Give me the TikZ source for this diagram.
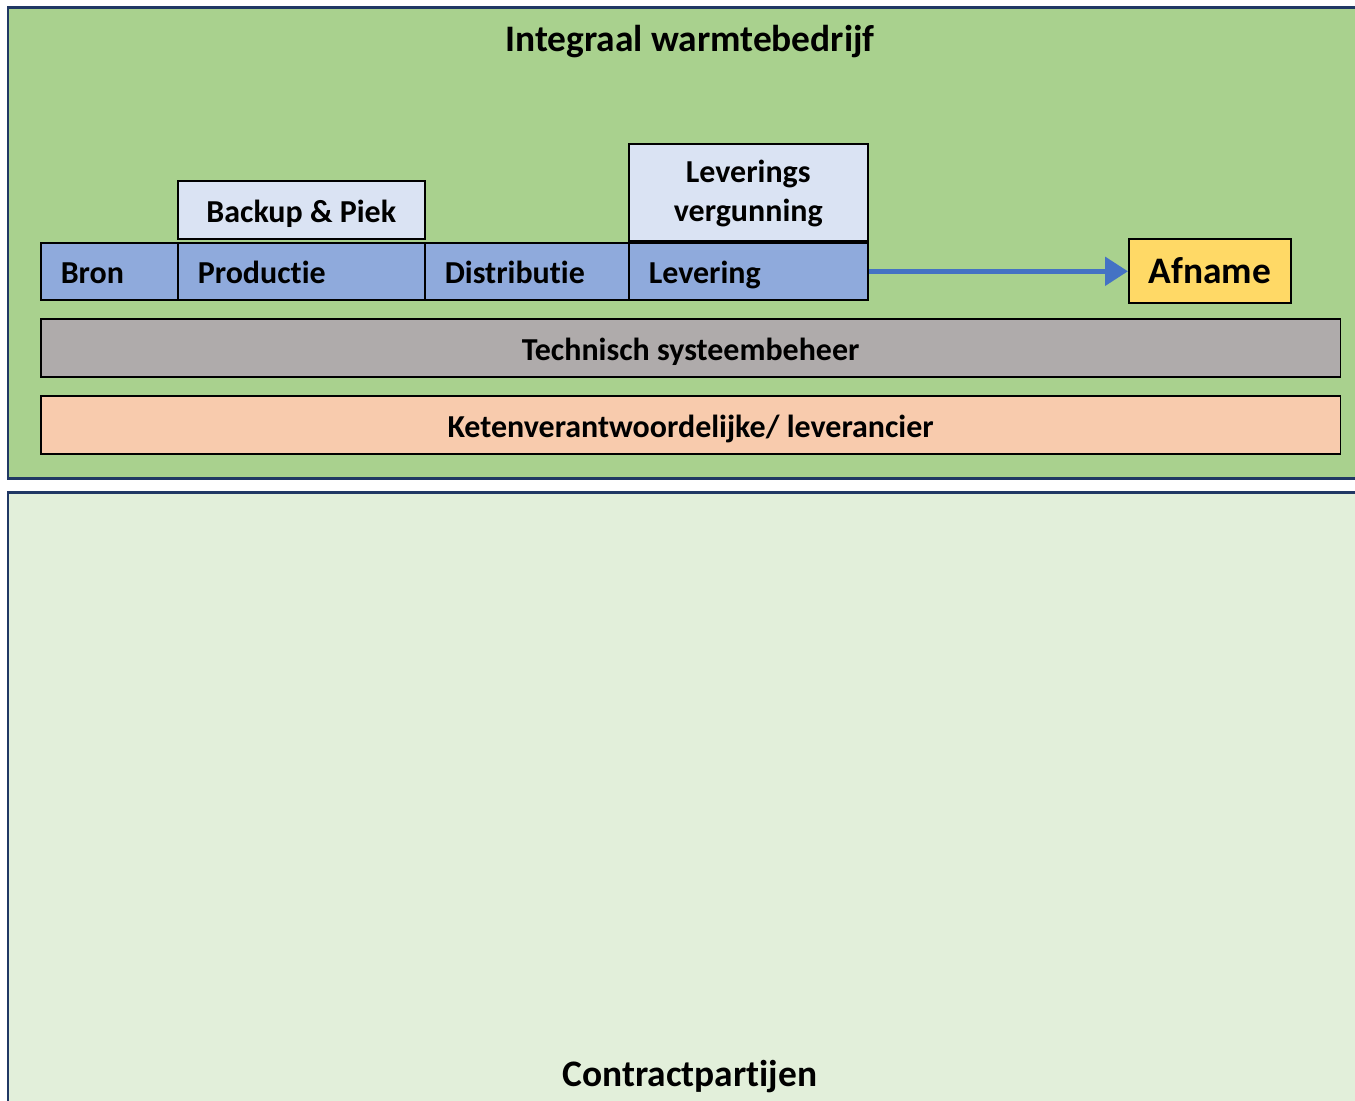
\documentclass[tikz,border=0pt]{standalone}
\usepackage{fontspec}
\setmainfont{Carlito}[Ligatures=NoCommon]
\usetikzlibrary{arrows.meta}
\definecolor{donkerblauw}{HTML}{203864}
\definecolor{groen}{HTML}{A9D18E}
\definecolor{lichtgroen}{HTML}{E2EFDA}
\definecolor{rijblauw}{HTML}{8FAADC}
\definecolor{lichtblauw}{HTML}{DAE3F3}
\definecolor{grijs}{HTML}{AFABAB}
\definecolor{zalm}{HTML}{F8CBAD}
\definecolor{geel}{HTML}{FFD966}
\definecolor{pijlblauw}{HTML}{4472C4}
\newcommand{\gewoon}{\bfseries\fontsize{18.2}{22}\selectfont}
\newcommand{\groot}{\bfseries\fontsize{21.3}{25}\selectfont}

\begin{document}
\begin{tikzpicture}[x=0.02cm,y=-0.02cm,
  kader/.style={draw=donkerblauw,line width=1.7pt},
  blok/.style={draw=black,line width=0.9pt,anchor=north west,inner sep=0pt,font=\gewoon},
  eenregel/.style={text height=18pt,text depth=4pt},
  rij/.style={blok,eenregel,fill=rijblauw,align=left,inner xsep=0.4cm,minimum height=1.14cm},
  bovenop/.style={blok,fill=lichtblauw,align=center},
  balk/.style={blok,eenregel,minimum width=26cm,minimum height=1.16cm},
  pijl/.style={pijlblauw,line width=3pt,-{Triangle[length=0.46cm,width=0.56cm]}}]
  \useasboundingbox (0,0) rectangle (1355,1100);
  \clip (0,0) rectangle (1355,1100);

  %outer frames
  \fill[white] (0,0) rectangle (1355,1100);
  \draw[kader,fill=groen] (8,7) rectangle (1375,478);
  \draw[kader,fill=lichtgroen] (8,492) rectangle (1375,1120);
  \node[font=\groot] (titel) at (690,42) {Integraal warmtebedrijf};
  \node[font=\groot] (contract) at (690,1077) {Contractpartijen};

  %chain of boxes
  \foreach \naam/\x/\b/\tekst in {bron/40/1.94/Bron,productie/177/4.14/Productie,
      distributie/424/3.28/Distributie,levering/628/3.98/Levering} {
    \node[rij,text width=\b cm] (\naam) at (\x,242) {\tekst};
  }

  %boxes on top
  \node[bovenop,eenregel,minimum width=4.94cm,minimum height=1.16cm] (backup) at (177,180) {Backup \& Piek};
  \node[bovenop,minimum width=4.78cm,minimum height=1.94cm,text depth=2pt] (vergunning) at (628,143)
      {Leverings\\vergunning};

  %customer
  \node[blok,fill=geel,font=\groot,text height=19pt,text depth=4.2pt,
      minimum width=3.24cm,minimum height=1.28cm] (afname) at (1128,238) {Afname};
  \draw[pijl] (levering.east) -- (levering.east -| afname.west);

  %bars
  \node[balk,fill=grijs] (beheer) at (40,318) {Technisch systeembeheer};
  \node[balk,fill=zalm] (keten) at (40,395) {Ketenverantwoordelijke/ leverancier};
\end{tikzpicture}
\end{document}
